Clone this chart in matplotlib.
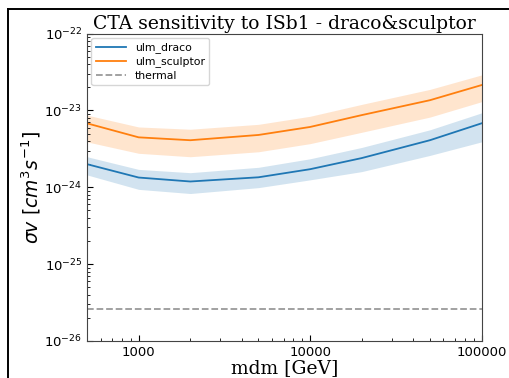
import matplotlib
matplotlib.use("Agg")
import matplotlib.pyplot as plt

mdm = [500, 1000, 2000, 5000, 10000, 20000, 50000, 100000]

ulm_draco = [2.0e-24, 1.34e-24, 1.19e-24, 1.35e-24, 1.72e-24, 2.4e-24, 4.1e-24, 6.8e-24]
draco_hi = [2.5e-24, 1.71e-24, 1.55e-24, 1.82e-24, 2.35e-24, 3.3e-24, 5.6e-24, 9.3e-24]
draco_lo = [1.45e-24, 9.4e-25, 8.3e-25, 9.9e-25, 1.25e-24, 1.6e-24, 2.6e-24, 3.9e-24]

ulm_sculptor = [6.8e-24, 4.47e-24, 4.1e-24, 4.8e-24, 6.1e-24, 8.7e-24, 1.36e-23, 2.14e-23]
sculptor_hi = [8.7e-24, 6.1e-24, 5.7e-24, 6.6e-24, 8.4e-24, 1.2e-23, 1.88e-23, 2.9e-23]
sculptor_lo = [3.9e-24, 2.77e-24, 2.5e-24, 2.9e-24, 3.7e-24, 5.2e-24, 8.2e-24, 1.3e-23]

thermal = 2.6e-26

xticks = [1000, 10000, 100000]
yticks = [1e-26, 1e-25, 1e-24, 1e-23, 1e-22]

fig = plt.figure(figsize=(5.09, 3.78), dpi=100)

# screenshot frame edges (left and top only)
frame = fig.add_axes([0.016, 0.0, 0.984, 0.976], zorder=-1)
frame.set_xticks([])
frame.set_yticks([])
frame.patch.set_visible(False)
frame.spines['right'].set_visible(False)
frame.spines['bottom'].set_visible(False)
frame.spines['left'].set_linewidth(1.4)
frame.spines['top'].set_linewidth(1.4)

ax = fig.add_axes([0.171, 0.098, 0.775, 0.813])

ax.plot(mdm, ulm_draco, color='tab:blue', lw=1.3, label='ulm_draco')
ax.fill_between(mdm, draco_lo, draco_hi, color='tab:blue', alpha=0.2, lw=0)
ax.plot(mdm, ulm_sculptor, color='tab:orange', lw=1.3, label='ulm_sculptor')
ax.fill_between(mdm, sculptor_lo, sculptor_hi, color='tab:orange', alpha=0.2, lw=0)
ax.axhline(thermal, color='gray', ls='--', lw=1.3, alpha=0.8, label='thermal')

ax.set_xscale('log')
ax.set_yscale('log')
ax.set_xlim(500, 100000)
ax.set_ylim(1e-26, 1e-22)
ax.set_xticks(xticks)
ax.set_xticklabels([str(t) for t in xticks])
ax.set_yticks(yticks)
ax.tick_params(which='both', direction='in', labelsize=9.5)
ax.tick_params(which='major', length=4.5)
ax.tick_params(which='minor', length=2.5)
for s in ax.spines.values():
    s.set_color('#444444')

ax.set_title('CTA sensitivity to ISb1 - draco&sculptor', family='DejaVu Serif',
             fontsize=13.5, pad=3)
ax.set_xlabel('mdm [GeV]', family='DejaVu Serif', fontsize=13.5, labelpad=0)
ax.set_ylabel(r'$\sigma v\ [cm^3 s^{-1}]$', fontsize=13.5, labelpad=1)
ax.legend(loc='upper left', fontsize=7.8, handlelength=2.8, labelspacing=0.3,
          borderaxespad=0.4)

fig.savefig('out.png', dpi=100)
